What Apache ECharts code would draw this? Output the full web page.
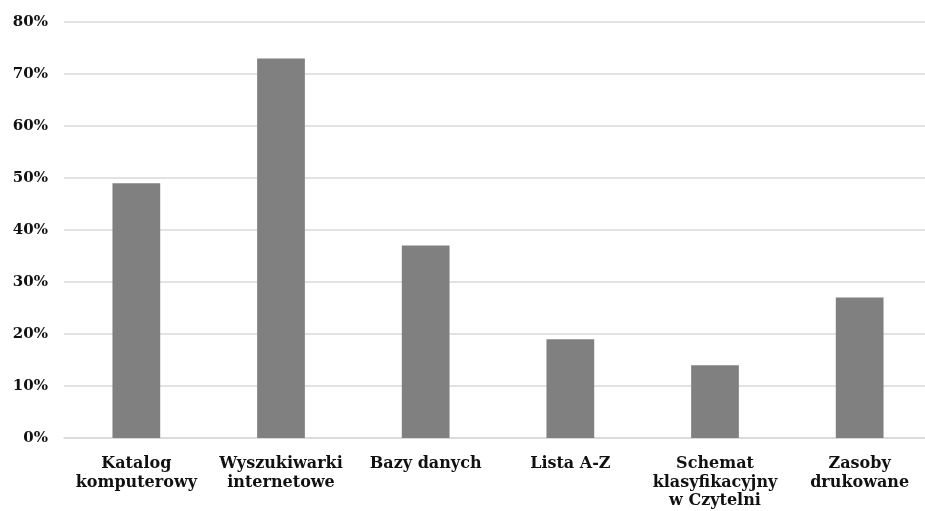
<!DOCTYPE html>
<html>
<head>
<meta charset="utf-8">
<script src="https://cdn.jsdelivr.net/npm/echarts@6/dist/echarts.min.js"></script>
<style>html,body{margin:0;padding:0;background:#fff;overflow:hidden;width:925px;height:511px}#c{width:932px;height:511px}</style>
</head>
<body>
<div id="c"></div>
<script>
const categories = ['Katalog\nkomputerowy', 'Wyszukiwarki\ninternetowe', 'Bazy danych', 'Lista A-Z', 'Schemat\nklasyfikacyjny\nw Czytelni', 'Zasoby\ndrukowane'];
const values = [49, 73, 37, 19, 14, 27];
const yTicks = [0, 10, 20, 30, 40, 50, 60, 70, 80];

const chart = echarts.init(document.getElementById('c'), null, {renderer: 'canvas'});
chart.setOption({
  animation: false,
  backgroundColor: '#ffffff',
  grid: {left: 64, right: 0, top: 22, bottom: 73, containLabel: false},
  xAxis: {
    type: 'category',
    data: categories,
    axisLine: {show: true, lineStyle: {color: '#d9d9d9', width: 1.5}},
    axisTick: {show: false},
    axisLabel: {
      interval: 0,
      margin: 17,
      color: '#111',
      fontFamily: 'DejaVu Serif',
      fontWeight: 'bold',
      fontSize: 16,
      lineHeight: 18.5
    }
  },
  yAxis: {
    type: 'value',
    min: yTicks[0],
    max: yTicks[yTicks.length - 1],
    interval: 10,
    axisLine: {show: false},
    axisTick: {show: false},
    splitLine: {lineStyle: {color: '#d9d9d9', width: 1.5}},
    axisLabel: {
      margin: 16,
      color: '#111',
      fontFamily: 'DejaVu Serif',
      fontWeight: 'bold',
      fontSize: 15,
      formatter: v => v + '%'
    }
  },
  series: [{
    type: 'bar',
    data: values,
    barWidth: '33%',
    itemStyle: {color: '#808080'}
  }]
});
</script>
</body>
</html>
